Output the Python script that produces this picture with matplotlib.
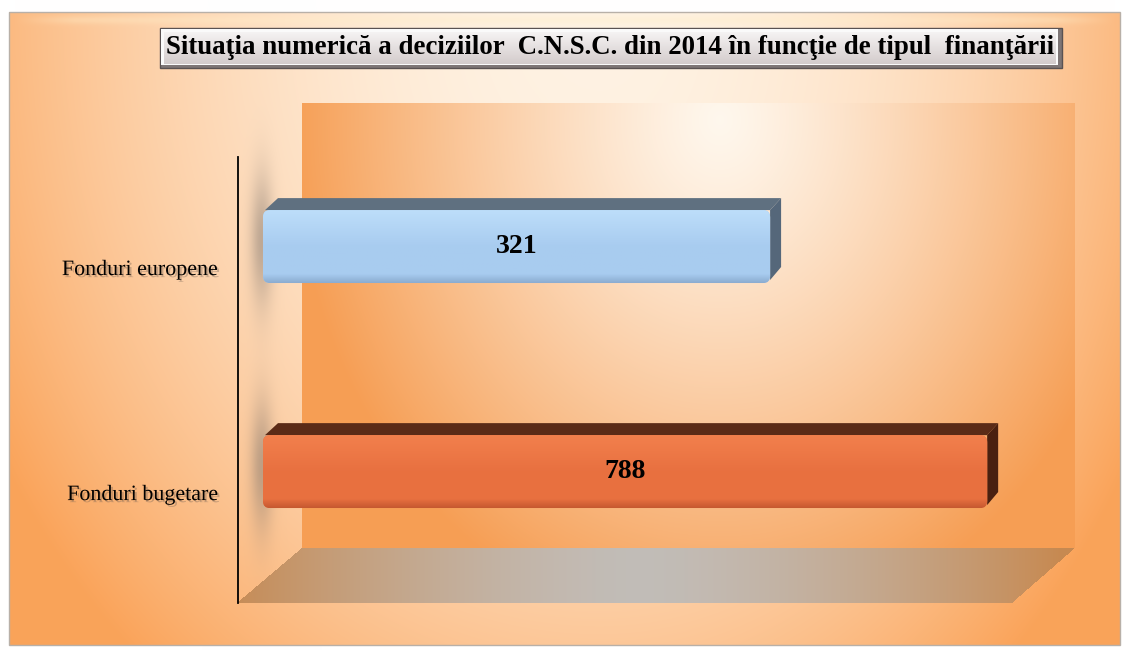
import numpy as np
import matplotlib
matplotlib.use('Agg')
import matplotlib.pyplot as plt
import matplotlib.patheffects as pe
from matplotlib.patches import Polygon, Rectangle, FancyBboxPatch
from matplotlib.transforms import blended_transform_factory, ScaledTranslation

# data
categories = ['Fonduri bugetare', 'Fonduri europene']
values = np.array([788, 321])
title = 'Situaţia numerică a deciziilor  C.N.S.C. din 2014 în funcţie de tipul  finanţării'

# styles
front_top = [np.array([0.95, 0.50, 0.30]), np.array([0.74, 0.87, 0.98])]
front_mid = [np.array([0.91, 0.44, 0.25]), np.array([0.66, 0.80, 0.94])]
front_bot = [np.array([0.78, 0.35, 0.19]), np.array([0.55, 0.68, 0.82])]
top_colors = ['#5B2B17', '#5F7080']
side_colors = ['#4A2010', '#55677A']
serif = ['Liberation Serif', 'DejaVu Serif']

W, H = 1125, 650
fig = plt.figure(figsize=(W / 100, H / 100), dpi=100)
bg = fig.add_axes([0, 0, 1, 1])
bg.axis('off')

yy, xx = np.mgrid[0:H, 0:W] + 0.5


def mix(c0, c1, t):
    return c0 * (1 - t[..., None]) + c1 * t[..., None]


# background frame
orange = np.array([0.98, 0.64, 0.35])
light = np.array([1.0, 0.95, 0.89])
canvas = np.ones((H, W, 3))
sx = np.where(xx < 600, 700, 620)
r = np.sqrt(((xx - 600) / sx) ** 2 + ((yy - 20) / 850) ** 2)
bgimg = mix(light, orange, np.clip(r, 0, 1) ** 2)
frame = (xx >= 9) & (xx <= 1120) & (yy >= 12) & (yy <= 645)
canvas[frame] = bgimg[frame]

# back wall
wall_mask = (xx >= 302) & (xx <= 1075) & (yy >= 103) & (yy <= 548)
r2 = np.sqrt(((xx - 720) / 430) ** 2 + ((yy - 120) / 520) ** 2)
wall = mix(np.array([1.0, 0.97, 0.93]), np.array([0.965, 0.62, 0.33]), np.clip(r2, 0, 1) ** 1.2)
canvas[wall_mask] = wall[wall_mask]

# floor
s = (yy - 548) / 55
floor_mask = (yy >= 548) & (yy <= 603) & (xx >= 302 - 65 * s) & (xx <= 1075 - 63 * s)
tf = np.clip(np.abs(xx - 640) / 420, 0, 1) ** 1.5
floor = mix(np.array([0.76, 0.74, 0.72]), np.array([0.78, 0.54, 0.32]), tf)
canvas[floor_mask] = floor[floor_mask]

# soft shadows of the bars on the side wall
for cy in [240, 465]:
    a = 0.45 * np.exp(-((xx - 262) / 8) ** 2 / 2 - ((yy - cy) / 45) ** 2 / 2)
    canvas = canvas * (1 - a[..., None]) + np.array([0.45, 0.42, 0.40]) * a[..., None]

# light bevel band along the top of the frame
band = 0.35 * np.exp(-((yy - 20) / 3) ** 2 / 2) * np.clip(np.minimum(xx - 15, 1115 - xx) / 60, 0, 1)
canvas = canvas * (1 - band[..., None]) + np.array([1.0, 0.93, 0.78]) * band[..., None]

bg.imshow(canvas, extent=(0, W, H, 0), interpolation='bilinear', zorder=0)
bg.add_patch(Rectangle((9, 12), 1111, 633, fill=False, edgecolor='#B8B0A8', lw=1, zorder=1))
bg.plot([238, 238], [157, 603], color='black', lw=1.3, zorder=2)

# title box
bg.add_patch(Rectangle((160, 28), 902, 40, fc='#7E7676', ec='#5A5252', lw=1, zorder=2))
bg.add_patch(Rectangle((161, 29), 897, 36, fc='#FAFAFA', ec='none', zorder=2))
tg = np.linspace(0, 1, 32)[:, None, None]
tbox = (1 - tg) * np.array([0.96, 0.95, 0.95]) + tg * np.array([0.83, 0.80, 0.80])
tbox = np.repeat(tbox, 4, axis=1)
bg.imshow(tbox, extent=(164, 1056, 64, 32), aspect='auto', zorder=3)
tt = bg.text(610, 48, title, ha='center', va='center', fontsize=17,
             fontweight='bold', family=serif, zorder=4)
bg.set_xlim(0, W)
bg.set_ylim(H, 0)

# bars
ax = fig.add_axes([263 / W, (H - 603) / H, (1075 - 263) / W, (603 - 157) / H])
x_min, x_max = -770, 977
y_lo, y_hi = -0.584, 1.398
ax.axis('off')
ax.patch.set_alpha(0)
pos = np.arange(len(categories))
bar_h = 0.324
bars = ax.barh(pos, values - x_min, left=x_min, height=bar_h,
               color='none', edgecolor='none', zorder=3)

px_x = (x_max - x_min) / (1075 - 263)
px_y = (y_hi - y_lo) / (603 - 157)
dx = 11 * px_x
dy = 12 * px_y

for i, (b, v) in enumerate(zip(bars, values)):
    x0 = b.get_x()
    x1 = x0 + b.get_width()
    y0 = b.get_y()
    y1 = y0 + b.get_height()
    ax.add_patch(Polygon([(x0 + 2 * px_x, y1), (x1, y1), (x1 + dx, y1 + dy), (x0 + dx + 4 * px_x, y1 + dy)],
                         closed=True, fc=top_colors[i], ec='none', zorder=2))
    ax.add_patch(Polygon([(x1, y0 + 3 * px_y), (x1, y1), (x1 + dx, y1 + dy), (x1 + dx, y0 + dy + 4 * px_y)],
                         closed=True, fc=side_colors[i], ec='none', zorder=2))
    face = FancyBboxPatch((x0, y0), x1 - x0, y1 - y0,
                          boxstyle='round,pad=0,rounding_size=%f' % (7 * px_x),
                          mutation_aspect=px_y / px_x,
                          fc=tuple(front_mid[i]), ec='none', zorder=3)
    ax.add_patch(face)
    g = np.linspace(0, 1, 60)
    col = np.where(g[:, None] < 0.5,
                   front_top[i] + (front_mid[i] - front_top[i]) * (g[:, None] / 0.5),
                   front_mid[i])
    col[g > 0.88] = front_mid[i] + (front_bot[i] - front_mid[i]) * ((g[g > 0.88, None] - 0.88) / 0.12)
    img = np.repeat(col[:, None, :], 4, axis=1)
    im = ax.imshow(img, extent=(x0, x1, y0, y1), aspect='auto', zorder=3.5, interpolation='bilinear')
    im.set_clip_path(face)
    ax.text((x0 + x1) / 2, (y0 + y1) / 2, str(v), ha='center', va='center',
            fontsize=20, fontweight='bold', family=serif, zorder=5)

trans = blended_transform_factory(ax.transAxes, ax.transData) + \
    ScaledTranslation(-45 / 100, -24 / 100, fig.dpi_scale_trans)
labels = []
for p, c in zip(pos, categories):
    t = ax.text(0, p, c, transform=trans, ha='right', va='center', fontsize=16,
                family=serif, zorder=5,
                path_effects=[pe.withSimplePatchShadow(offset=(1.5, -1.5),
                                                       shadow_rgbFace='#6A5A50', alpha=0.35)])
    labels.append(t)

ax.set_xlim(x_min, x_max)
ax.set_ylim(y_lo, y_hi)

# fit text widths to the reference
fig.canvas.draw()
rend = fig.canvas.get_renderer()
w = tt.get_window_extent(renderer=rend).width
tt.set_fontsize(tt.get_fontsize() * 888 / w)
w = labels[1].get_window_extent(renderer=rend).width
for t in labels:
    t.set_fontsize(t.get_fontsize() * 156 / w)

fig.savefig('out.png', dpi=100)
